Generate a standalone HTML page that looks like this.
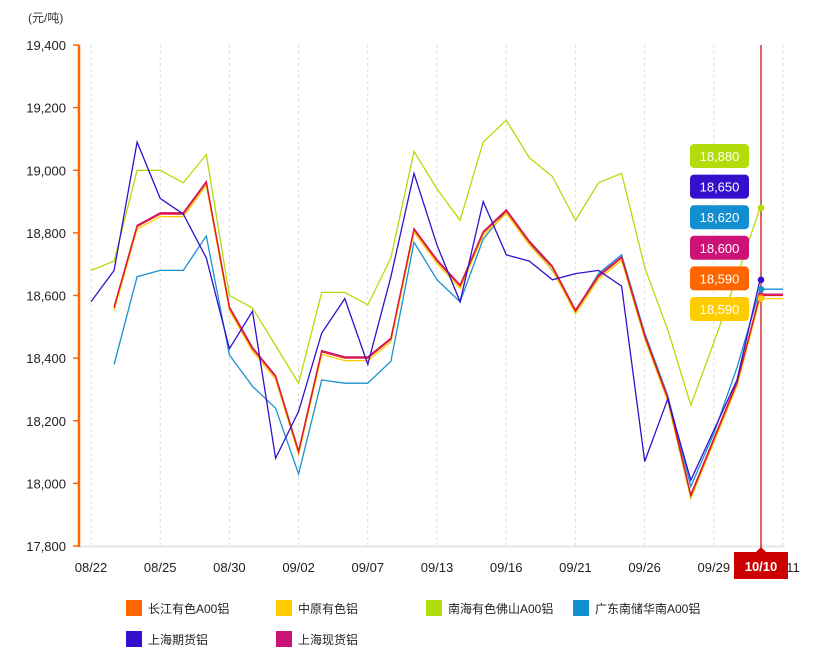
<!DOCTYPE html>
<html><head><meta charset="utf-8"><style>
body{margin:0;background:#fff;font-family:"Liberation Sans","Noto Sans CJK SC",sans-serif;}
svg text{font-family:"Liberation Sans","Noto Sans CJK SC",sans-serif;}
</style></head><body>
<svg id="c" width="825" height="667" xmlns="http://www.w3.org/2000/svg"></svg>
<script>
const s=document.getElementById('c');let h='';
const Y=v=>45+(19400-v)*501/1600, X=i=>91+i*23.07;
h+='<text x="28" y="22" font-size="12" fill="#333">(元/吨)</text>';
for(let k=0;k<=8;k++){const v=17800+k*200,y=Y(v);
h+=`<text x="66" y="${y+5}" font-size="13" fill="#222" text-anchor="end">${(v/1000|0)+','+String(v%1000).padStart(3,'0')}</text><line x1="73" x2="79" y1="${y}" y2="${y}" stroke="#f60" stroke-width="1.5"/>`;}
const labs=['08/22','08/25','08/30','09/02','09/07','09/13','09/16','09/21','09/26','09/29','11'];
for(let k=0;k<11;k++){const x=91+k*69.2;h+=`<line x1="${x}" x2="${x}" y1="45" y2="546" stroke="#ddd" stroke-dasharray="3,3"/>`;
h+=`<text x="${k==10?793:x}" y="572" font-size="13" fill="#222" text-anchor="middle">${labs[k]}</text>`;}
h+='<line x1="79" x2="785" y1="546.5" y2="546.5" stroke="#e6e6e6" stroke-width="2"/>';
h+='<line x1="79" x2="79" y1="45" y2="547" stroke="#f60" stroke-width="2.5"/>';
const N=null;
const green=[18680,18710,19000,19000,18960,19050,18600,18560,18440,18320,18610,18610,18570,18720,19060,18940,18840,19090,19160,19040,18980,18840,18960,18990,18690,18490,18250,18450,18660,18880];
const dark=[18580,18680,19090,18910,18860,18720,18430,18550,18080,18230,18480,18590,18380,18660,18990,18760,18580,18900,18730,18710,18650,18670,18680,18630,18070,18270,18010,18170,18330,18650];
const red=[N,18560,18820,18860,18860,18960,18560,18430,18340,18100,18420,18400,18400,18460,18810,18710,18630,18800,18870,18770,18690,18550,18660,18720,18470,18270,17960,18140,18320,18600,18600];
const lb=[N,18380,18660,18680,18680,18790,18410,18310,18240,18030,18330,18320,18320,18390,18770,18650,18580,18780,18870,18770,18680,18550,18670,18730,18480,18280,17990,18160,18370,18620,18620];
const yel=red.map((v,i)=>v==N?N:v-(i>=29?10:8));
function pl(d,c){let p=[];d.forEach((v,i)=>{if(v!=N)p.push(X(i).toFixed(1)+','+Y(v).toFixed(1))});h+=`<polyline points="${p.join(' ')}" fill="none" stroke="${c}" stroke-width="1.3"/>`;}
pl(green,'#b2dd0a');pl(lb,'#1a90d0');pl(yel,'#ffcc00');pl(red.map(v=>v==N?N:v+4),'#d0107a');pl(red,'#e02020');pl(dark,'#3311cc');
h+='<line x1="761" x2="761" y1="45" y2="550" stroke="#c00" stroke-width="1.2"/>';
[[18880,'#b2dd0a'],[18650,'#3311cc'],[18620,'#1a90d0'],[18600,'#d0107a'],[18595,'#f60'],[18590,'#ffcc00']].forEach(a=>h+=`<circle cx="761" cy="${Y(a[0])}" r="3.3" fill="${a[1]}"/>`);
[['18,880','#b2dd0a'],['18,650','#3311cc'],['18,620','#118fd0'],['18,600','#cc1177'],['18,590','#ff6600'],['18,590','#ffcc00']].forEach((a,k)=>{const y=144+k*30.6;
h+=`<rect x="690" y="${y}" width="59" height="24" rx="4" fill="${a[1]}"/><text x="719.5" y="${y+17}" font-size="13" fill="#fff" text-anchor="middle">${a[0]}</text>`;});
h+='<polygon points="761,547 756,552 766,552" fill="#c00"/><rect x="734" y="552" width="54" height="27" fill="#c00"/><text x="761" y="571" font-size="13" fill="#fff" text-anchor="middle" font-weight="bold">10/10</text>';
const L=[['长江有色A00铝','#ff6600',126,600],['中原有色铝','#ffcc00',276,600],['南海有色佛山A00铝','#b2dd0a',426,600],['广东南储华南A00铝','#118fd0',573,600],['上海期货铝','#3311cc',126,631],['上海现货铝','#cc1177',276,631]];
L.forEach(a=>h+=`<rect x="${a[2]}" y="${a[3]}" width="16" height="16" fill="${a[1]}"/><text x="${a[2]+22}" y="${a[3]+13}" font-size="12" fill="#222">${a[0]}</text>`);
s.innerHTML=h;
</script>
</body></html>
